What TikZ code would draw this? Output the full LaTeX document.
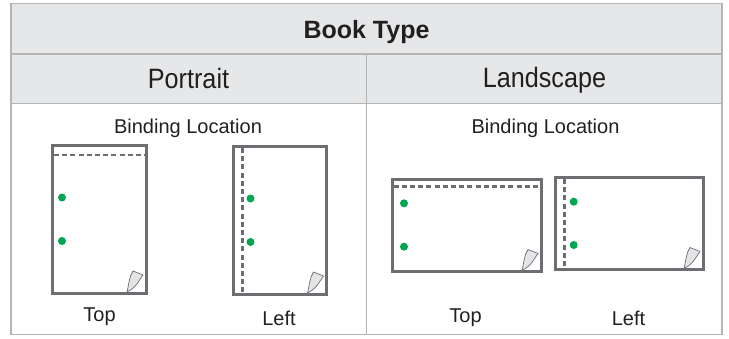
\documentclass[tikz,border=0pt]{standalone}
\usepackage{fontspec}
\setmainfont{Liberation Sans}
\newfontfamily\narrowfont[FakeStretch=0.9]{Liberation Sans}
\definecolor{gridc}{HTML}{B5B5B5}
\definecolor{headc}{HTML}{E6E7E8}
\definecolor{pagec}{HTML}{6D6E71}
\definecolor{dotc}{HTML}{00A651}
\definecolor{curlc}{HTML}{E3E4E5}
\definecolor{txtc}{HTML}{231F20}
\tikzset{
  grid line/.style={draw=gridc, line width=1.6pt},
  page/.style={draw=pagec, line width=3pt, fill=white},
  bindline/.style={draw=pagec, line width=2.4pt, dash pattern=on 5pt off 3.2pt},
  hole/.style={fill=dotc},
  curl/.style={draw=pagec, fill=curlc, line width=0.7pt, line join=round},
  small label/.style={font=\fontsize{20}{23}\selectfont, text=txtc, anchor=base},
  head label/.style={font=\narrowfont\fontsize{28}{32}\selectfont, text=txtc, anchor=base},
  title label/.style={font=\bfseries\fontsize{25}{29}\selectfont, text=txtc, anchor=base},
}
\newcommand{\pagecurl}[2]{%
  \path[curl] (#1-18,#2) .. controls (#1-16,#2-8) and (#1-16,#2-15) .. (#1-12,#2-21)
     -- (#1-2,#2-17) .. controls (#1-6,#2-12) and (#1-8,#2-5) .. cycle;}
\begin{document}
\begin{tikzpicture}[x=1pt,y=-1pt]
\useasboundingbox (0,0) rectangle (729,338);
% table
\fill[headc] (11,3.5) rectangle (722,103.5);
\draw[grid line] (11,3.5) rectangle (722,334.5);
\draw[grid line] (11,54) -- (722,54);
\draw[grid line] (11,103.5) -- (722,103.5);
\draw[grid line] (366.5,54) -- (366.5,334.5);
\node[title label] (title) at (366.5,38) {Book Type};
\node[head label] (portrait) at (188.5,88.5) {Portrait};
\node[head label] (landscape) at (544.5,87.5) {Landscape};
\node[small label] (bl1) at (188,133.5) {Binding Location};
\node[small label] (bl2) at (545.5,133.5) {Binding Location};
% portrait top
\draw[page] (52.5,145) rectangle (146,293);
\draw[bindline] (54,155) -- (145,155);
\fill[hole] (62,197.5) circle (4);
\fill[hole] (62,241) circle (4);
\pagecurl{145}{292}
\node[small label] (pt) at (99.5,321.5) {Top};
% portrait left
\draw[page] (233.5,146.5) rectangle (326.5,294);
\draw[bindline] (242.5,148) -- (242.5,293);
\fill[hole] (250.5,198.5) circle (4);
\fill[hole] (250.5,242) circle (4);
\pagecurl{325.5}{293}
\node[small label] (pl) at (279,325) {Left};
% landscape top
\draw[page] (392,179) rectangle (541,271.5);
\draw[bindline] (393.5,186.5) -- (540,186.5);
\fill[hole] (404,203.3) circle (4);
\fill[hole] (404,246.7) circle (4);
\pagecurl{540}{270.5}
\node[small label] (lt) at (465.5,322) {Top};
% landscape left
\draw[page] (555.5,177.5) rectangle (703,269.5);
\draw[bindline] (564.3,179) -- (564.3,268.5);
\fill[hole] (573.7,201.7) circle (4);
\fill[hole] (573.7,245) circle (4);
\pagecurl{702}{268.5}
\node[small label] (ll) at (628.5,325) {Left};
\end{tikzpicture}
\end{document}
